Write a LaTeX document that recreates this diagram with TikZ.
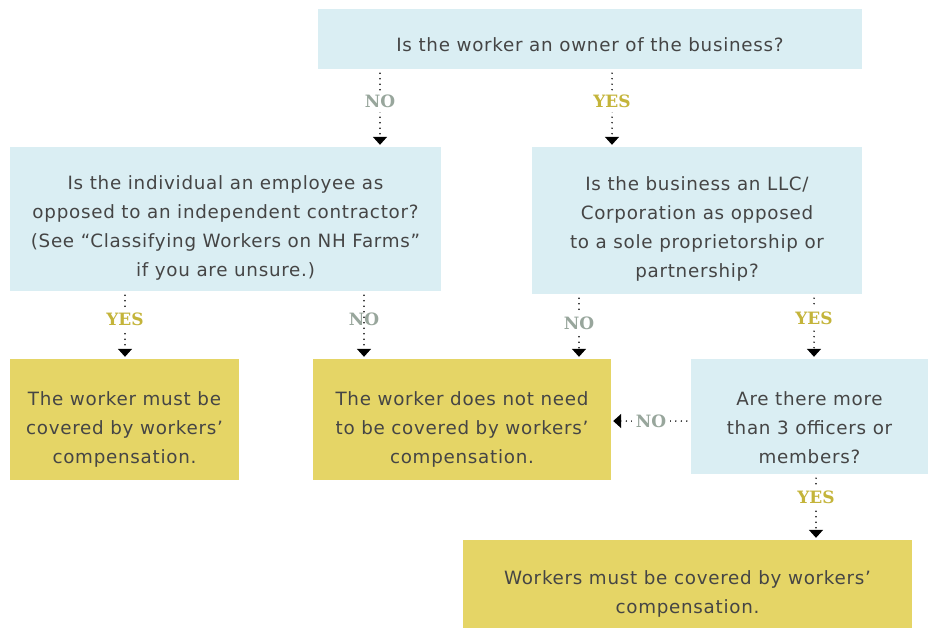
\documentclass[tikz,border=0pt]{standalone}
\usepackage{fontspec}
\setmainfont{DejaVu Sans}[LetterSpace=4]
\newfontfamily\slabfont{DejaVu Serif}
\usetikzlibrary{arrows.meta}
\definecolor{askblue}{HTML}{DAEEF3}
\definecolor{mustyellow}{HTML}{E5D566}
\definecolor{txtgray}{HTML}{454545}
\definecolor{nogray}{HTML}{98A69C}
\definecolor{yesolive}{HTML}{C4B43A}

\begin{document}
\begin{tikzpicture}[x=1pt,y=-1pt,
  question/.style={fill=askblue, align=center, text=txtgray, inner sep=0pt,
    font=\fontsize{18.3}{29}\selectfont},
  verdict/.style={question, fill=mustyellow},
  flow/.style={line width=1.6pt, line cap=round, dash pattern=on 0pt off 5.5pt,
    -{Triangle[width=14pt,length=8pt]}, shorten <=4pt, shorten >=2pt},
  nolabel/.style={fill=white, inner sep=4pt, text=nogray, font=\slabfont\bfseries\fontsize{17}{17}\selectfont},
  yeslabel/.style={nolabel, text=yesolive}]
\useasboundingbox (0,0) rectangle (929,630);

% questions
\node[question, minimum width=544pt, minimum height=60pt, text height=26pt] (owner) at (590,39)
  {Is the worker an owner of the business?};
\node[question, minimum width=431pt, minimum height=144pt, text height=118pt] (employee) at (225.5,219)
  {Is the individual an employee as\\opposed to an independent contractor?\\(See “Classifying Workers on NH Farms”\\if you are unsure.)};
\node[question, minimum width=330pt, minimum height=147pt, text height=118pt] (llc) at (697,220.5)
  {Is the business an LLC/\\Corporation as opposed\\to a sole proprietorship or\\partnership?};
\node[question, minimum width=237pt, minimum height=115pt, text height=94pt] (officers) at (809.5,416.5)
  {Are there more\\than 3 officers or\\members?};

% verdicts
\node[verdict, minimum width=229pt, minimum height=121pt, text height=92pt] (mustcover) at (124.5,419.5)
  {The worker must be\\covered by workers’\\compensation.};
\node[verdict, minimum width=298pt, minimum height=121pt, text height=92pt] (nocover) at (462,419.5)
  {The worker does not need\\to be covered by workers’\\compensation.};
\node[verdict, minimum width=449pt, minimum height=88pt, text height=62pt] (allcover) at (687.5,584)
  {Workers must be covered by workers’\\compensation.};

% where the arrows run
\coordinate (xa) at (380,0);
\coordinate (xb) at (612,0);
\coordinate (xc) at (125,0);
\coordinate (xd) at (364,0);
\coordinate (xe) at (579,0);
\coordinate (xf) at (814,0);
\coordinate (xg) at (816,0);
\coordinate (yh) at (0,421);

\draw[flow] (owner.south -| xa) -- node[nolabel, pos=0.42] {NO} (employee.north -| xa);
\draw[flow] (owner.south -| xb) -- node[yeslabel, pos=0.42] {YES} (llc.north -| xb);
\draw[flow] (employee.south -| xc) -- node[yeslabel, pos=0.42] {YES} (mustcover.north -| xc);
\draw[flow] (employee.south -| xd) -- node[nolabel, fill=none, pos=0.42] {NO} (nocover.north -| xd);
\draw[flow] (llc.south -| xe) -- node[nolabel, pos=0.45] {NO} (nocover.north -| xe);
\draw[flow] (llc.south -| xf) -- node[yeslabel, pos=0.38] {YES} (officers.north -| xf);
\draw[flow] (officers.west |- yh) -- node[nolabel, pos=0.5] {NO} (nocover.east |- yh);
\draw[flow] (officers.south -| xg) -- node[yeslabel, pos=0.35] {YES} (allcover.north -| xg);
\end{tikzpicture}
\end{document}
